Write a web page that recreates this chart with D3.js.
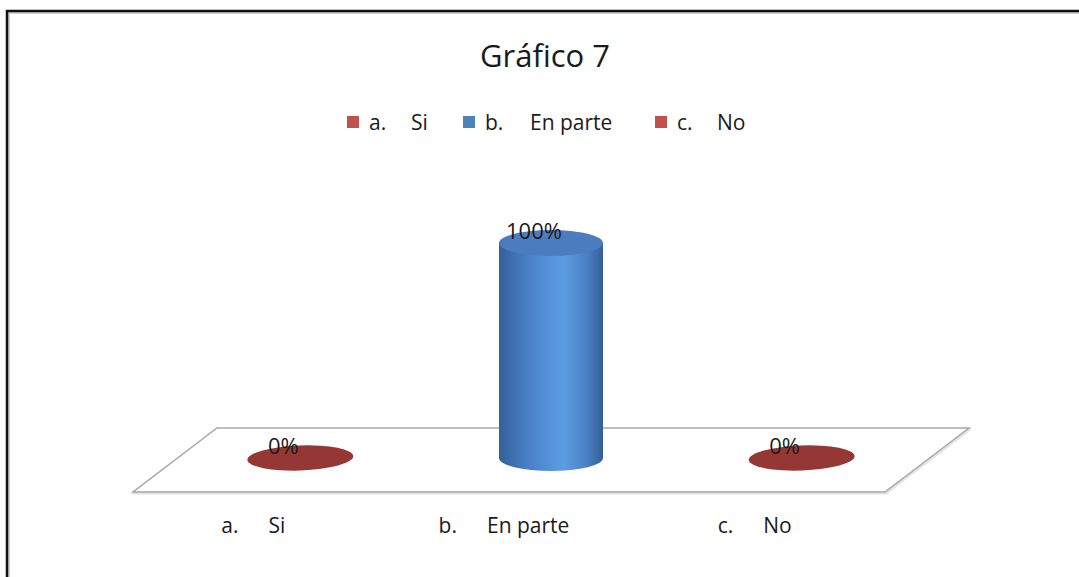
<!DOCTYPE html>
<html lang="en">
<head>
    <meta charset="UTF-8">
    <title>Gráfico 7</title>
    <script src="https://cdn.jsdelivr.net/npm/d3@7"></script>
    <style>
        body { margin: 0; background: #fff; }
        text { font-family: "Open Sans", sans-serif; fill: #1a1a1a; }
    </style>
</head>
<body>
    <div id="chart-space"></div>

<script>
    // data
    var prefixes = ["a.", "b.", "c."];
    var categories = ["Si", "En parte", "No"];
    var values = [0, 1, 0];
    var valueLabels = ["0%", "100%", "0%"];
    var legendColors = ["#c0504d", "#4f81bd", "#c0504d"];

    var width = 1079;
    var height = 577;

    // floor geometry: front edge and depth offset (oblique projection)
    var floor = {left: 133, right: 885, y: 492, dx: 84, dy: -64};
    var midDx = floor.dx / 2, midDy = floor.dy / 2;

    var svg = d3.select("#chart-space")
                .append("svg")
                .attr("width", width)
                .attr("height", height);

    var defs = svg.append("defs");
    var grad = defs.append("linearGradient").attr("id", "cyl")
                   .attr("x1", "0%").attr("x2", "100%");
    grad.append("stop").attr("offset", "0%").attr("stop-color", "#33619b");
    grad.append("stop").attr("offset", "30%").attr("stop-color", "#4a82c9");
    grad.append("stop").attr("offset", "62%").attr("stop-color", "#5d9de3");
    grad.append("stop").attr("offset", "85%").attr("stop-color", "#4a7fc2");
    grad.append("stop").attr("offset", "100%").attr("stop-color", "#345f96");

    // outer frame
    svg.append("path")
       .attr("d", "M7," + height + " L7,11 L" + width + ",11")
       .attr("fill", "none").attr("stroke", "#cfcfcf").attr("stroke-width", 2)
       .attr("transform", "translate(2,2)");
    svg.append("path")
       .attr("d", "M7," + height + " L7,11 L" + width + ",11")
       .attr("fill", "none").attr("stroke", "#111").attr("stroke-width", 2.5);

    // title
    svg.append("text")
       .attr("x", 545).attr("y", 67)
       .attr("text-anchor", "middle")
       .style("font-size", "31px")
       .text("Gráfico 7");

    // legend
    var legendX = [347, 463, 655];
    var legend = svg.selectAll(".legend")
                    .data(categories)
                    .join("g")
                    .attr("class", "legend")
                    .attr("transform", function(d, i){ return "translate(" + legendX[i] + ",0)"; });
    legend.append("rect")
          .attr("y", 116)
          .attr("width", 12).attr("height", 12)
          .attr("fill", function(d, i){ return legendColors[i]; });
    legend.append("text")
          .attr("x", 22).attr("y", 130)
          .style("font-size", "21px")
          .text(function(d, i){ return prefixes[i]; })
          .append("tspan")
          .attr("x", function(d, i){ return [64, 67, 62][i]; })
          .text(function(d){ return d; });

    // scales
    var xFront = d3.scaleBand()
                   .domain(categories)
                   .range([floor.left, floor.right]);

    var yScale = d3.scaleLinear()
                   .domain([0, 1])
                   .range([0, 215]);

    // floor
    var fp = [
        [floor.left, floor.y],
        [floor.right, floor.y],
        [floor.right + floor.dx, floor.y + floor.dy],
        [floor.left + floor.dx, floor.y + floor.dy]
    ];
    svg.append("polygon")
       .attr("points", fp.map(function(p){ return (p[0] + 1) + "," + (p[1] + 1.5); }).join(" "))
       .attr("fill", "none").attr("stroke", "#e2e2e2").attr("stroke-width", 2);
    svg.append("polygon")
       .attr("points", fp.map(function(p){ return p.join(","); }).join(" "))
       .attr("fill", "#fff").attr("stroke", "#a6a6a6").attr("stroke-width", 1.5);

    // bars (cylinders)
    var rx = 52, ry = 13;
    var bars = svg.selectAll(".bar")
                  .data(values)
                  .join("g")
                  .attr("class", "bar")
                  .attr("transform", function(d, i){
                      var cx = xFront(categories[i]) + xFront.bandwidth() / 2 + midDx;
                      return "translate(" + cx + "," + (floor.y + midDy - 2) + ")";
                  });

    bars.each(function(d, i){
        var g = d3.select(this);
        var h = yScale(d);
        if (h <= 0) {
            g.append("ellipse")
             .attr("rx", rx + 1).attr("ry", ry - 0.5)
             .attr("transform", "rotate(-2)")
             .attr("fill", "#953735");
            return;
        }
        g.append("path")
         .attr("d", "M" + (-rx) + "," + (-h) +
                    " L" + (-rx) + ",0" +
                    " A" + rx + "," + ry + " 0 0 0 " + rx + ",0" +
                    " L" + rx + "," + (-h) + " Z")
         .attr("fill", "url(#cyl)");
        g.append("ellipse")
         .attr("cy", -h).attr("rx", rx).attr("ry", ry)
         .attr("fill", "#4a7cbf");
    });

    // value labels
    svg.selectAll(".vlabel")
       .data(values)
       .join("text")
       .attr("class", "vlabel")
       .attr("x", function(d, i){ return xFront(categories[i]) + xFront.bandwidth() / 2 + midDx - 17; })
       .attr("y", function(d){ return floor.y + midDy - yScale(d) - 6; })
       .attr("text-anchor", "middle")
       .style("font-size", "22px")
       .text(function(d, i){ return valueLabels[i]; });

    // category axis labels
    svg.selectAll(".xlabel")
       .data(categories)
       .join("text")
       .attr("class", "xlabel")
       .attr("x", function(d){ return xFront(d) + xFront.bandwidth() / 2 - 5; })
       .attr("y", 533)
       .attr("text-anchor", "middle")
       .style("font-size", "21px")
       .text(function(d, i){ return prefixes[i]; })
       .append("tspan")
       .attr("dx", 30)
       .text(function(d){ return d; });
</script>
</body>
</html>
